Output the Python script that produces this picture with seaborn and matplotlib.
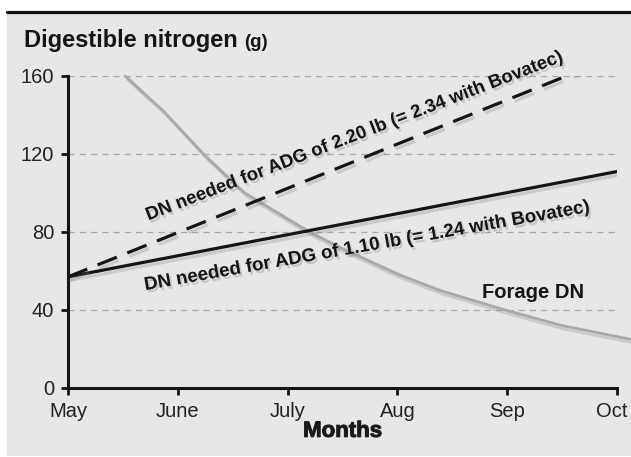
import matplotlib
matplotlib.use("Agg")
import matplotlib.pyplot as plt
import matplotlib.patheffects as pe
import matplotlib.transforms as mtrans
from matplotlib.patches import Rectangle
from matplotlib.lines import Line2D
import seaborn as sns

# months since May (0 = May, 5 = Oct)
month_labels = ["May", "June", "July", "Aug", "Sep", "Oct"]
month_ticks = [0, 1, 2, 3, 4, 5]
y_ticks = [0, 40, 80, 120, 160]

# DN requirement lines (g)
need_x = [0, 5]
need_110 = [57, 111]
need_220_x = [0, 4.83]
need_220 = [57, 166.6]

# forage digestible nitrogen
forage_x = [0.52, 0.87, 1.25, 1.61, 2.2, 2.48, 3.02, 3.39, 3.98, 4.5, 5.12]
forage_y = [160, 142, 119, 100, 80, 72, 58, 50, 40, 32, 25]

sns.set_theme(style="ticks")
plt.rcParams["font.family"] = ["Liberation Sans Narrow", "Liberation Sans", "DejaVu Sans"]

fig = plt.figure(figsize=(6.31, 4.57), dpi=100)
fig.patch.set_facecolor("white")

# grey panel + black rule on top
fig.patches.append(Rectangle((7 / 631, 0.002), 1, 0.9716 - 0.002, transform=fig.transFigure,
                             facecolor="#e6e7e8", edgecolor="none", zorder=-5))
fig.lines.append(Line2D([7 / 631, 1], [0.9737, 0.9737], transform=fig.transFigure,
                        color="#111111", lw=2.3, zorder=-4))

ax = fig.add_axes([68 / 631, 0.151, (617 - 68) / 631, 0.8337 - 0.151])
ax.set_zorder(2)
ax.set_facecolor("none")

shadow = [pe.SimpleLineShadow(offset=(1.5, -2.5), shadow_color="#777777", alpha=0.25), pe.Normal()]

sns.lineplot(x=forage_x, y=forage_y, ax=ax, color="#a9a9a9", lw=2.0,
             clip_on=False, path_effects=shadow, zorder=3)
sns.lineplot(x=need_x, y=need_110, ax=ax, color="#151515", lw=2.3,
             path_effects=shadow, zorder=4)
sns.lineplot(x=need_220_x, y=need_220, ax=ax, color="#151515", lw=2.3,
             linestyle=(0, (6.5, 3.5)), path_effects=shadow, zorder=4)

ax.set_xlim(0, 5)
ax.set_ylim(0, 160)
ax.set_xticks(month_ticks)
ax.set_xticklabels(month_labels)
ax.set_yticks(y_ticks)
ax.yaxis.grid(True, linestyle=(0, (5, 4)), color="#a8a8a8", lw=0.9)
ax.xaxis.grid(False)
for s in ["top", "right"]:
    ax.spines[s].set_visible(False)
for s in ["left", "bottom"]:
    ax.spines[s].set_linewidth(2.2)
    ax.spines[s].set_color("#151515")
ax.tick_params(axis="both", length=5, width=2, color="#151515", labelsize=14.5,
               labelcolor="#222222", pad=5)
# last month label sits a little left of its tick, as in the original
last = ax.get_xticklabels()[-1]
last.set_transform(last.get_transform() + mtrans.ScaledTranslation(-5 / 100, 0, fig.dpi_scale_trans))

bold_heavy = [pe.withStroke(linewidth=0.7, foreground="#1a1a1a")]
ax.set_xlabel("Months", fontsize=16, fontweight="bold", family=["Liberation Sans", "DejaVu Sans"],
              color="#1a1a1a", labelpad=0, path_effects=bold_heavy)
ax.set_ylabel("")

txt_shadow = [pe.withSimplePatchShadow(offset=(1.5, -2), shadow_rgbFace="#777777", alpha=0.3)]
ax.text(2.61, 129, "DN needed for ADG of 2.20 lb (= 2.34 with Bovatec)", rotation=21,
        ha="center", va="center", fontsize=13.3, fontweight="bold", color="#151515",
        rotation_mode="anchor", path_effects=txt_shadow, zorder=5)
ax.text(2.72, 72.5, "DN needed for ADG of 1.10 lb (= 1.24 with Bovatec)", rotation=10,
        ha="center", va="center", fontsize=13.5, fontweight="bold", color="#151515",
        rotation_mode="anchor", path_effects=txt_shadow, zorder=5)
ax.text(4.24, 49, "Forage DN", ha="center", va="center", fontsize=14.5,
        fontweight="bold", color="#151515", zorder=5)

# title with smaller unit
t = fig.text(24 / 631, 1 - 47 / 457, "Digestible nitrogen", fontsize=17, fontweight="bold",
             family=["Liberation Sans", "DejaVu Sans"], color="#151515", va="baseline")
fig.canvas.draw()
bb = t.get_window_extent()
fig.text((bb.x1 + 6) / 631, 1 - 47 / 457, "(g)", fontsize=13.5, fontweight="bold",
         family=["Liberation Sans", "DejaVu Sans"], color="#151515", va="baseline")

fig.savefig("out.png", dpi=100, facecolor="white")
